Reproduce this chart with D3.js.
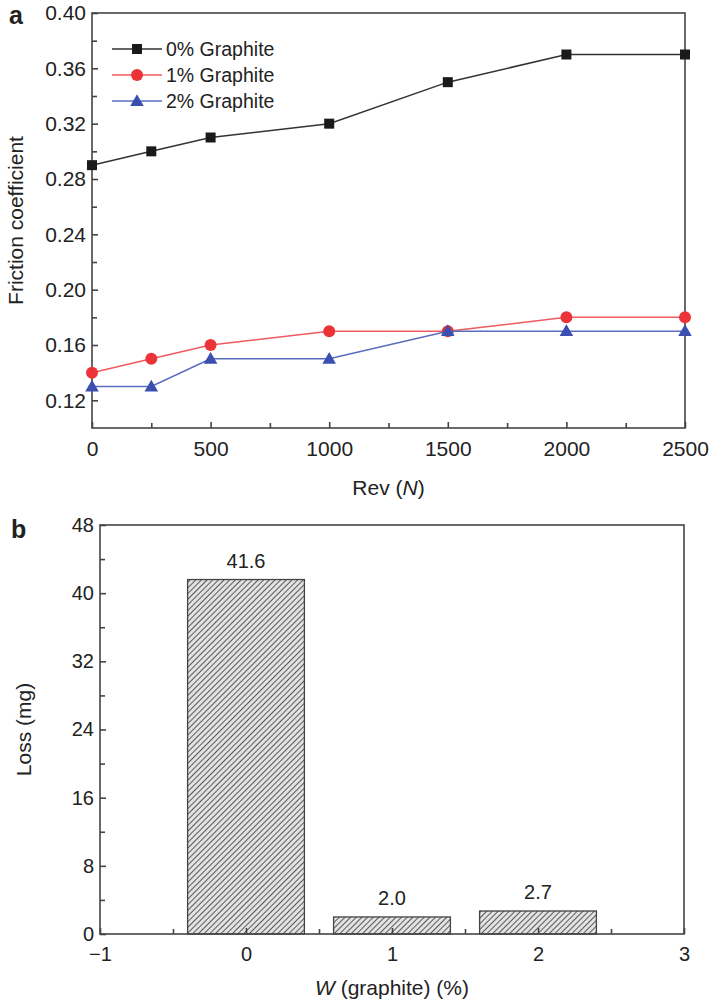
<!DOCTYPE html>
<html lang="en">
<head>
  <meta charset="UTF-8">
  <title>Friction coefficient and wear loss</title>
  <style>
      body { margin: 0; background: #fff; }
      svg text { font-family: "Liberation Sans", Arial, sans-serif; fill: #222; }
      .axis path, .axis line { stroke: #444; stroke-width: 1.6px; }
      .axis text { font-size: 21px; }
      .axis.b text { font-size: 20px; }
  </style>
</head>
<body>
<div id="chart"></div>
<script src="https://d3js.org/d3.v7.min.js"></script>
<script>
  // panel a data
  const revs = [0, 250, 500, 1000, 1500, 2000, 2500];
  const g0 = [0.29, 0.30, 0.31, 0.32, 0.35, 0.37, 0.37];
  const g1 = [0.14, 0.15, 0.16, 0.17, 0.17, 0.18, 0.18];
  const g2 = [0.13, 0.13, 0.15, 0.15, 0.17, 0.17, 0.17];
  const seriesNames = ["0% Graphite", "1% Graphite", "2% Graphite"];
  const yTicksA = [0.12, 0.16, 0.20, 0.24, 0.28, 0.32, 0.36, 0.40];
  const xTicksA = [0, 500, 1000, 1500, 2000, 2500];

  // panel b data
  const wCats = [0, 1, 2];
  const loss = [41.6, 2.0, 2.7];
  const lossLabels = ["41.6", "2.0", "2.7"];
  const yTicksB = [0, 8, 16, 24, 32, 40, 48];
  const xTicksB = [-1, 0, 1, 2, 3];

  const W = 710, H = 1003;
  const svg = d3.select("#chart").append("svg")
    .attr("width", W)
    .attr("height", H);

  const defs = svg.append("defs");
  const pat = defs.append("pattern")
    .attr("id", "hatch")
    .attr("patternUnits", "userSpaceOnUse")
    .attr("width", 4)
    .attr("height", 4)
    .attr("patternTransform", "rotate(45)");
  pat.append("rect").attr("width", 4).attr("height", 4).attr("fill", "#e2e2e2");
  pat.append("line")
    .attr("x1", 0).attr("y1", 0).attr("x2", 0).attr("y2", 4)
    .attr("stroke", "#4a4a4a").attr("stroke-width", 1.8);

  // ---------- panel a ----------
  const a = {left: 92, right: 685, top: 13, bottom: 428};
  const xA = d3.scaleLinear().domain([0, 2500]).range([a.left, a.right]);
  const yA = d3.scaleLinear().domain([0.10, 0.40]).range([a.bottom, a.top]);

  const pa = svg.append("g");

  pa.append("rect")
    .attr("x", a.left).attr("y", a.top)
    .attr("width", a.right - a.left).attr("height", a.bottom - a.top)
    .attr("fill", "none").attr("stroke", "#444").attr("stroke-width", 1.6);

  // minor ticks
  pa.append("g").attr("class", "axis")
    .attr("transform", `translate(0,${a.bottom})`)
    .call(d3.axisTop(xA).tickValues(d3.range(250, 2500, 500)).tickSize(5).tickFormat(""))
    .select(".domain").remove();
  pa.append("g").attr("class", "axis")
    .attr("transform", `translate(${a.left},0)`)
    .call(d3.axisRight(yA).tickValues(d3.range(0.14, 0.40, 0.04)).tickSize(5).tickFormat(""))
    .select(".domain").remove();

  const xAxA = pa.append("g").attr("class", "axis")
    .attr("transform", `translate(0,${a.bottom})`)
    .call(d3.axisBottom(xA).tickValues(xTicksA).tickSizeInner(-6).tickSizeOuter(0).tickPadding(13)
      .tickFormat(d3.format("d")));
  xAxA.select(".domain").remove();

  const yAxA = pa.append("g").attr("class", "axis")
    .attr("transform", `translate(${a.left},0)`)
    .call(d3.axisLeft(yA).tickValues(yTicksA).tickSizeInner(-6).tickSizeOuter(0).tickPadding(6)
      .tickFormat(d3.format(".2f")));
  yAxA.select(".domain").remove();

  const colors = ["#1a1a1a", "#ec3338", "#3a4fb0"];
  const lineColors = ["#333", "#ef5a5e", "#5a6cc0"];
  const allSeries = [g0, g1, g2];

  const line = d3.line()
    .x((d, i) => xA(revs[i]))
    .y(d => yA(d));

  function marker(sel, k, x, y) {
    if (k === 0) {
      sel.append("rect").attr("x", x - 5).attr("y", y - 5).attr("width", 10).attr("height", 10)
        .attr("fill", colors[0]);
    } else if (k === 1) {
      sel.append("circle").attr("cx", x).attr("cy", y).attr("r", 6).attr("fill", colors[1]);
    } else {
      sel.append("path").attr("d", d3.symbol().type(d3.symbolTriangle).size(80)())
        .attr("transform", `translate(${x},${y + 1})`).attr("fill", colors[2]);
    }
  }

  allSeries.forEach((s, k) => {
    pa.append("path")
      .datum(s)
      .attr("d", line)
      .attr("fill", "none")
      .attr("stroke", lineColors[k])
      .attr("stroke-width", 1.5);
    s.forEach((v, i) => marker(pa, k, xA(revs[i]), yA(v)));
  });

  // legend
  const leg = pa.append("g");
  seriesNames.forEach((name, k) => {
    const ly = 49 + k * 26;
    leg.append("line").attr("x1", 112).attr("x2", 162).attr("y1", ly).attr("y2", ly)
      .attr("stroke", lineColors[k]).attr("stroke-width", 1.5);
    marker(leg, k, 137, ly);
    leg.append("text").attr("x", 166).attr("y", ly + 7).style("font-size", "19.5px").text(name);
  });

  pa.append("text").attr("x", 9).attr("y", 24)
    .style("font-size", "25px").style("font-weight", "bold").text("a");

  pa.append("text")
    .attr("transform", `translate(23,${(a.top + a.bottom) / 2}) rotate(-90)`)
    .attr("text-anchor", "middle")
    .style("font-size", "21px")
    .text("Friction coefficient");

  const xlabA = pa.append("text")
    .attr("x", (a.left + a.right) / 2).attr("y", 495)
    .attr("text-anchor", "middle").style("font-size", "21px");
  xlabA.append("tspan").text("Rev (");
  xlabA.append("tspan").style("font-style", "italic").text("N");
  xlabA.append("tspan").text(")");

  // ---------- panel b ----------
  const b = {left: 100, right: 684, top: 525, bottom: 934};
  const xB = d3.scaleLinear().domain([-1, 3]).range([b.left, b.right]);
  const yB = d3.scaleLinear().domain([0, 48]).range([b.bottom, b.top]);

  const pb = svg.append("g");

  pb.selectAll(".bar")
    .data(loss)
    .enter().append("rect")
    .attr("class", "bar")
    .attr("x", (d, i) => xB(wCats[i] - 0.4))
    .attr("width", xB(0.4) - xB(-0.4))
    .attr("y", d => yB(d))
    .attr("height", d => yB(0) - yB(d))
    .attr("fill", "url(#hatch)")
    .attr("stroke", "#444")
    .attr("stroke-width", 1.3);

  pb.selectAll(".blab")
    .data(loss)
    .enter().append("text")
    .attr("x", (d, i) => xB(wCats[i]))
    .attr("y", d => yB(d) - 12)
    .attr("text-anchor", "middle")
    .style("font-size", "20px")
    .text((d, i) => lossLabels[i]);

  pb.append("rect")
    .attr("x", b.left).attr("y", b.top)
    .attr("width", b.right - b.left).attr("height", b.bottom - b.top)
    .attr("fill", "none").attr("stroke", "#444").attr("stroke-width", 1.6);

  pb.append("g").attr("class", "axis")
    .attr("transform", `translate(0,${b.bottom})`)
    .call(d3.axisTop(xB).tickValues([-0.5, 0.5, 1.5, 2.5]).tickSize(5).tickFormat(""))
    .select(".domain").remove();
  pb.append("g").attr("class", "axis")
    .attr("transform", `translate(${b.left},0)`)
    .call(d3.axisRight(yB).tickValues(d3.range(4, 48, 8)).tickSize(5).tickFormat(""))
    .select(".domain").remove();

  const xAxB = pb.append("g").attr("class", "axis b")
    .attr("transform", `translate(0,${b.bottom})`)
    .call(d3.axisBottom(xB).tickValues(xTicksB).tickSizeInner(-6).tickSizeOuter(0).tickPadding(13)
      .tickFormat(d => d < 0 ? "\u2212" + Math.abs(d) : d));
  xAxB.select(".domain").remove();

  const yAxB = pb.append("g").attr("class", "axis b")
    .attr("transform", `translate(${b.left},0)`)
    .call(d3.axisLeft(yB).tickValues(yTicksB).tickSizeInner(-6).tickSizeOuter(0).tickPadding(6));
  yAxB.select(".domain").remove();

  pb.append("text").attr("x", 11).attr("y", 538)
    .style("font-size", "25px").style("font-weight", "bold").text("b");

  pb.append("text")
    .attr("transform", `translate(31,${(b.top + b.bottom) / 2}) rotate(-90)`)
    .attr("text-anchor", "middle")
    .style("font-size", "21px")
    .text("Loss (mg)");

  const xlabB = pb.append("text")
    .attr("x", (b.left + b.right) / 2).attr("y", 995)
    .attr("text-anchor", "middle").style("font-size", "21px");
  xlabB.append("tspan").style("font-style", "italic").text("W");
  xlabB.append("tspan").text(" (graphite) (%)");
</script>
</body>
</html>
